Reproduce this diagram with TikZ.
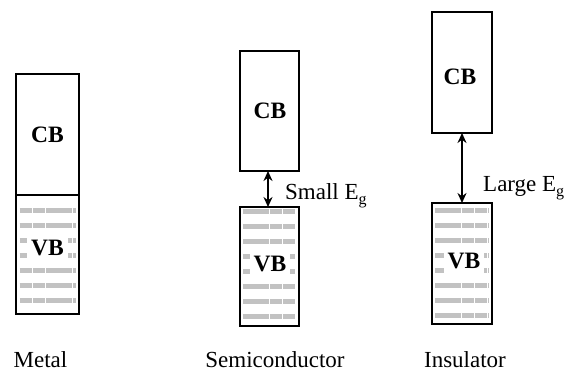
\documentclass[tikz,border=0pt]{standalone}
\usepackage{fontspec}
\setmainfont{Liberation Serif}
\usetikzlibrary{arrows.meta}
\tikzset{
  bandbox/.style={draw=black, line width=1.5pt, inner sep=0pt, outer sep=0pt},
  bandlabel/.style={font=\fontsize{23.5}{26}\selectfont\bfseries, inner sep=0pt},
  vblabel/.style={bandlabel, fill=white, inner xsep=4pt, inner ysep=5pt},
  stripe/.style={draw=gray!48, line width=5pt, dash pattern=on 12.5pt off 0.8pt},
  caption/.style={font=\fontsize{23}{26}\selectfont, inner sep=0pt, anchor=base},
  gaplabel/.style={font=\fontsize{23}{26}\selectfont, inner sep=0pt, anchor=base west},
  gaparrow/.style={line width=1.6pt, {Stealth[length=10pt,width=9pt]}-{Stealth[length=10pt,width=9pt]}}
}
\newcommand{\Eg}{E\raisebox{-5pt}{\fontsize{16}{16}\selectfont g}}
\begin{document}
\begin{tikzpicture}[x=1pt,y=-1pt]
\useasboundingbox (0,0) rectangle (569,374);
% Metal
\node[bandbox, minimum width=63pt, minimum height=121pt] (cb1) at (47.5,134.5) {};
\node[bandbox, minimum width=63pt, minimum height=119pt] (vb1) at (47.5,254.5) {};
\foreach \y in {210,225,...,300} \draw[stripe] (19.5,\y) -- (75.5,\y);
\node[bandlabel] (cb1t) at (47.5,135) {CB};
\node[vblabel] (vb1t) at (47.5,248) {VB};
% Semiconductor
\node[bandbox, minimum width=59pt, minimum height=120pt] (cb2) at (269.5,111) {};
\node[bandbox, minimum width=59pt, minimum height=119pt] (vb2) at (269.5,266.5) {};
\foreach \y in {211,226,...,316} \draw[stripe] (243,\y) -- (296,\y);
\node[bandlabel] (cb2t) at (270,110.5) {CB};
\node[vblabel] (vb2t) at (270,263.5) {VB};
% Insulator
\node[bandbox, minimum width=60pt, minimum height=121pt] (cb3) at (462,72.5) {};
\node[bandbox, minimum width=60pt, minimum height=121pt] (vb3) at (462,263.5) {};
\foreach \y in {210,225,...,315} \draw[stripe] (435,\y) -- (489,\y);
\node[bandlabel] (cb3t) at (460,76.5) {CB};
\node[vblabel] (vb3t) at (464,261) {VB};
% gaps
\draw[gaparrow] ([xshift=-1.5pt]cb2.south) -- ([xshift=-1.5pt]vb2.north);
\node[gaplabel] (g2) at (285,199) {Small \Eg};
\draw[gaparrow] (cb3.south) -- (vb3.north);
\node[gaplabel] (g3) at (483,191) {Large \Eg};
% captions
\node[caption] (m) at (40.5,367) {Metal};
\node[caption] (s) at (275,367) {Semiconductor};
\node[caption] (i) at (465,367) {Insulator};
\end{tikzpicture}
\end{document}
